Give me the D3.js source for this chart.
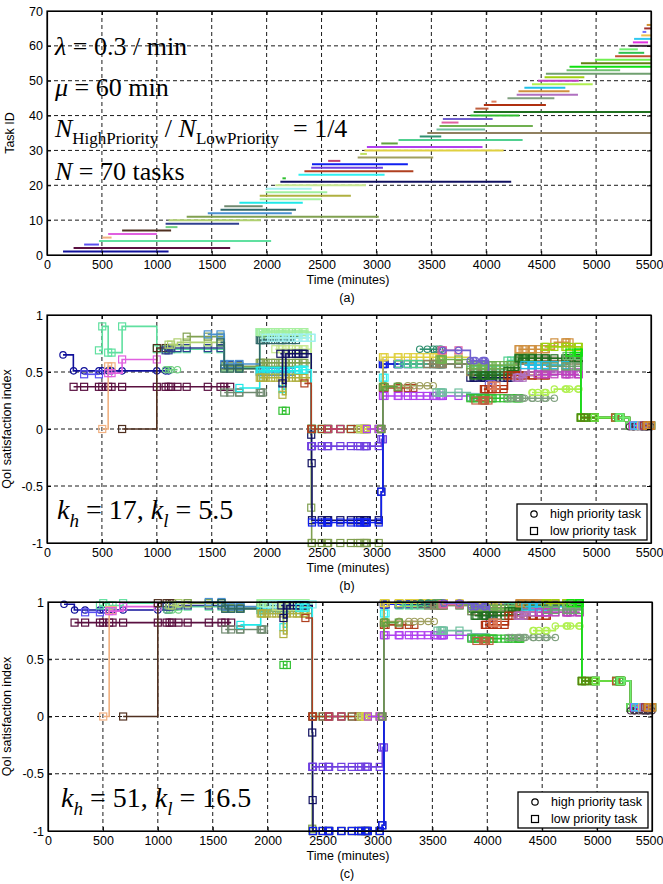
<!DOCTYPE html>
<html>
<head>
<meta charset="utf-8">
<script src="https://cdn.jsdelivr.net/npm/d3@7"></script>
<style>
body { margin: 0; background: #fff; }
text { font-family: "Liberation Sans", Arial, sans-serif; }
.serif, .serif text { font-family: "Liberation Serif", "Times New Roman", serif; }
</style>
</head>
<body>
<svg id="chart" width="663" height="884"></svg>
<script>
// task arrivals / departures (minutes)
var taskStart = [146,242,338,473,503,557,684,1080,1080,1107, 1272,1464,1580,1614,1752,1937,1937,1991,1991,2079,
  2125,2144,2290,2344,2406,2413,2560,2829,2852,2890, 2913,3044,3201,3394,3463,3547,3574,3593,3605,3855,
  3885,3901,3978,4047,4193,4277,4293,4347,4416,4470, 4531,4543,4731,4758,4862,4989,5173,5204,5212,5304,
  5335,5346,5411,5423,5438,5461];
var taskEnd = [1107,1668,473,2041,588,1000,1130,1188,1749,1948, 3021,2229,2267,1964,2329,2502,2767,2552,2410,2905,
  4227,2175,3074,3336,3059,3286,2671,3517,2913,4158, 3966,3194,4331,3590,5500,3989,4424,3747,4058,4301,
  5500,4020,4543,4093,4620,4835,4758,4720,4969,4843, 4893,5500,5219,5500,5500,5500,5500,5438,5380,5500,
  5473,5500,5500,5457,5500,5500];
// 1 = high priority (circles), 0 = low priority (squares)
var taskHigh = [1,0,0,0,0,0,0,1,0,0, 0,0,0,0,0,0,0,0,0,0, 0,0,0,0,0,0,0,1,0,0,
  0,0,0,1,0,0,0,0,1,0, 0,0,0,0,1,0,0,0,1,0, 0,0,0,0,0,0,0,0,0,1, 0,0,0,0,0,0];
var taskColor = ["#10109a","#5a1040","#5a50f0","#60e0a0","#f0b080","#e060e0","#503020","#70d080","#304090","#b0d070",
  "#80a050","#4a90d0","#306868","#708a70","#20e8e8","#a8f0a0","#b0b040","#a0f0a0","#a0f0f0","#c8e890",
  "#101060","#30c030","#30f0f0","#b04020","#7040e0","#1020f0","#c04070","#a0a060","#c0e060","#e0d040",
  "#b040f0","#60a040","#50d090","#309070","#908060","#70c0a0","#70b050","#e060a0","#7060d0","#30c030",
  "#207020","#c06040","#b03010","#e08060","#80a080","#b070c0","#d09040","#20c0e8","#b0f050","#c040c0",
  "#a0d010","#70a070","#70c070","#10e010","#608010","#70f050","#c05030","#30c050","#70f070","#403040",
  "#e030e0","#30c8f0","#f0c050","#7070ff","#a03030","#d09030"];

// QoI step breakpoints [time, value] per task, panel (b): kh=17, kl=5.5
var qoiB = [
  [[146,.65],[240,.51]], [[242,.37]], [[338,.48]],
  [[473,.69],[503,.9],[557,.67],[684,.9],[1000,.7],[1614,.54],[1937,.85]],
  [[503,0],[557,.55]], [[557,.49],[684,.61]], [[684,0],[1000,.71]], [[1080,.52]],
  [[1080,.69],[1130,.71],[1614,.56]], [[1107,.74],[1188,.76],[1614,.53],[1937,.52]],
  [[1272,.81],[1614,.55],[1937,.58],[2406,-.69],[2410,-1]], [[1464,.83],[1614,.57],[1937,.5]],
  [[1580,.76],[1614,.53],[1937,.78]], [[1614,.32]], [[1752,.36],[1937,.51],[2144,.35],[2175,.51]],
  [[1937,.85],[2406,0]], [[1937,.45],[2144,.3],[2175,.45],[2406,0]], [[1991,.83],[2406,0]], [[1991,.8]],
  [[2079,.7],[2406,0]],
  [[2125,.66],[2144,.4],[2175,.66],[2406,-.05],[2410,-.3],[2413,-.8],[3044,-.55],[3059,.57],[3855,.45]],
  [[2144,.16]], [[2290,.52],[2406,0],[3059,.45]], [[2344,.4],[2406,0],[3059,.36]], [[2406,-.15],[3044,-.09]],
  [[2413,-.82],[3044,-.55],[3059,.57]], [[2560,0]], [[2829,0],[3059,.38]], [[2852,0]],
  [[2890,0],[3059,.63],[3855,.5]], [[2913,0],[3059,.29],[3855,.28]], [[3044,0],[3059,.37]],
  [[3201,.57],[3855,.52],[4193,.6]], [[3394,.7]], [[3463,.57],[3855,.5],[4293,.6],[4862,.1],[5304,.03]],
  [[3547,.32],[3855,.28]], [[3574,.61],[3855,.56],[4293,.63]], [[3593,.69]], [[3605,.69],[3855,.6],[4020,.4]],
  [[3855,.27]], [[3885,.47],[4193,.51],[4293,.62],[4862,.1],[5304,.03]], [[3901,.25]], [[3978,.35],[4193,.47]],
  [[4047,.38]], [[4193,.27]], [[4277,.45],[4347,.5]], [[4293,.7],[4620,.76]], [[4347,.56]],
  [[4416,.32],[4620,.35],[4862,.1]], [[4470,.48]], [[4531,.72],[4862,.1]], [[4543,.55],[4862,.1],[5304,.03]],
  [[4731,.64],[4862,.1]], [[4758,.67],[4862,.1],[5304,.03]], [[4862,.1],[5304,.03]], [[4989,.1],[5304,.03]],
  [[5173,.1],[5304,.03]], [[5204,.1],[5304,.03]], [[5212,.1],[5304,.03]], [[5304,.02]],
  [[5335,.03]], [[5346,.03]], [[5411,.03]], [[5423,.03]], [[5438,.03]], [[5461,.03]]
];

// panel (c): kh=51, kl=16.5
var qoiC = [
  [[146,.98],[240,.93]], [[242,.82]], [[338,.91]],
  [[473,.97],[503,.99],[557,.97],[684,.99],[1000,.96],[1614,.95],[1937,.99]],
  [[503,0],[557,.93]], [[557,.92],[684,.96]], [[684,0],[1000,.99]], [[1080,.93]],
  [[1080,.96],[1130,.97],[1614,.96]], [[1107,.97],[1188,.99],[1614,.94],[1937,.93]],
  [[1272,.99],[1614,.95],[1937,.95],[2406,-.98],[2410,-1]], [[1464,1],[1614,.96],[1937,.93]],
  [[1580,.99],[1614,.94],[1937,.97]], [[1614,.76]], [[1752,.8],[1937,.93],[2144,.78],[2175,.93]],
  [[1937,.99],[2406,0]], [[1937,.9],[2144,.72],[2175,.9],[2406,0]], [[1991,.99],[2406,0]], [[1991,.98]],
  [[2079,.96],[2406,0]],
  [[2125,.97],[2144,.86],[2175,.97],[2406,-.14],[2410,-.73],[2413,-1],[3044,-.95],[3059,.98],[3855,.95]],
  [[2144,.45]], [[2290,.95],[2406,0],[3059,.9]], [[2344,.86],[2406,0],[3059,.8]], [[2406,-.44],[3044,-.27]],
  [[2413,-1],[3044,-.95],[3059,.98]], [[2560,0]], [[2829,0],[3059,.83]], [[2852,0]],
  [[2890,0],[3059,.99],[3855,.97]], [[2913,0],[3059,.71],[3855,.69]], [[3044,0],[3059,.82]],
  [[3201,.97],[3855,.92],[4193,.96]], [[3394,.99]], [[3463,.97],[3855,.92],[4293,.98],[4862,.31],[5304,.08]],
  [[3547,.75],[3855,.69]], [[3574,.98],[3855,.94],[4293,.97]], [[3593,.98]], [[3605,.99],[3855,.96],[4020,.85]],
  [[3855,.68]], [[3885,.88],[4193,.92],[4293,.97],[4862,.31],[5304,.08]], [[3901,.66]], [[3978,.8],[4193,.88]],
  [[4047,.82]], [[4193,.69]], [[4277,.88],[4347,.91]], [[4293,.99]], [[4347,.96]],
  [[4416,.75],[4620,.79],[4862,.31]], [[4470,.91]], [[4531,.99],[4862,.31]], [[4543,.93],[4862,.31],[5304,.08]],
  [[4731,.98],[4862,.31]], [[4758,.99],[4862,.31],[5304,.08]], [[4862,.31],[5304,.08]], [[4989,.31],[5304,.08]],
  [[5173,.31],[5304,.08]], [[5204,.31],[5304,.08]], [[5212,.31],[5304,.08]], [[5304,.05]],
  [[5335,.08]], [[5346,.08]], [[5411,.08]], [[5423,.08]], [[5438,.08]], [[5461,.08]]
];

var xTicks = [0,500,1000,1500,2000,2500,3000,3500,4000,4500,5000,5500];
var taskTicks = [0,10,20,30,40,50,60,70];
var qoiTicks = [-1,-0.5,0,0.5,1];

var svg = d3.select("#chart");
var events = Array.from(new Set(taskStart.concat(taskEnd))).sort(function(a,b){ return a-b; });

function valueAt(bp, t) {
  var v = bp[0][1];
  bp.forEach(function(p) { if (p[0] <= t) v = p[1]; });
  return v;
}

function frame(p, y, yTicks, yLabel, cap) {
  var x = d3.scaleLinear().domain([0,5500]).range([p.l, p.r]);
  var g = svg.append("g");
  g.append("g").selectAll("line").data(xTicks.slice(1,-1)).enter().append("line")
    .attr("x1", function(d){ return x(d); }).attr("x2", function(d){ return x(d); })
    .attr("y1", p.t).attr("y2", p.b)
    .attr("stroke", "#000").attr("stroke-width", 0.9).attr("stroke-dasharray", "4,3");
  g.append("g").selectAll("line").data(yTicks.slice(1,-1)).enter().append("line")
    .attr("y1", function(d){ return y(d); }).attr("y2", function(d){ return y(d); })
    .attr("x1", p.l).attr("x2", p.r)
    .attr("stroke", "#000").attr("stroke-width", 0.9).attr("stroke-dasharray", "4,3");

  svg.append("text").attr("x", 348).attr("y", p.b + 29).attr("text-anchor", "middle")
    .attr("font-size", 12.5).text("Time (minutes)");
  svg.append("text").attr("x", 347).attr("y", p.b + 47).attr("text-anchor", "middle")
    .attr("font-size", 12.5).text(cap);
  svg.append("text").attr("transform", "translate(" + (p.yl) + "," + ((p.t + p.b) / 2) + ") rotate(-90)")
    .attr("text-anchor", "middle").attr("font-size", 12.5).text(yLabel);
  return { x: x, g: g };
}

function box(p, x, y, yTicks) {
  var g = svg.append("g");
  g.append("rect").attr("x", p.l).attr("y", p.t).attr("width", p.r - p.l).attr("height", p.b - p.t)
    .attr("fill", "none").attr("stroke", "#000").attr("stroke-width", 1.2);
  g.append("g").attr("transform", "translate(0," + p.b + ")")
    .call(d3.axisBottom(x).tickValues(xTicks).tickSizeInner(-4).tickSizeOuter(0).tickPadding(5)
      .tickFormat(function(d){ return String(d); }));
  g.append("g").attr("transform", "translate(" + p.l + ",0)")
    .call(d3.axisLeft(y).tickValues(yTicks).tickSizeInner(-4).tickSizeOuter(0).tickPadding(4)
      .tickFormat(function(d){ return String(d); }));
  g.append("g").attr("transform", "translate(0," + p.t + ")")
    .call(d3.axisTop(x).tickValues(xTicks).tickSizeInner(-4).tickSizeOuter(0).tickFormat(""));
  g.append("g").attr("transform", "translate(" + p.r + ",0)")
    .call(d3.axisRight(y).tickValues(yTicks).tickSizeInner(-4).tickSizeOuter(0).tickFormat(""));
  g.selectAll(".domain").attr("stroke", "#000").attr("stroke-width", 1.2);
  g.selectAll(".tick line").attr("stroke", "#000");
  g.selectAll(".tick text").attr("font-size", 12.5).attr("fill", "#000")
    .attr("font-family", "Liberation Sans, Arial, sans-serif");
  // last x label would run off the page edge: pull it back inside
  g.selectAll(".tick text").filter(function(d){ return d === 5500; })
    .attr("text-anchor", "end").attr("x", 663 - p.r);
}

function marker(g, cx, cy, high, color) {
  if (high) {
    g.append("circle").attr("cx", cx).attr("cy", cy).attr("r", 3.2)
      .attr("fill", "none").attr("stroke", color).attr("stroke-width", 1.2);
  } else {
    g.append("rect").attr("x", cx - 3.5).attr("y", cy - 3.5).attr("width", 7).attr("height", 7)
      .attr("fill", "none").attr("stroke", color).attr("stroke-width", 1.2);
  }
}

// ---- panel (a) ----
var pa = { l: 47, r: 651, t: 11, b: 255, yl: 14 };
var ya = d3.scaleLinear().domain([0,70]).range([pa.b, pa.t]);
var fa = frame(pa, ya, taskTicks, "Task ID", "(a)");
fa.g.append("g").selectAll("line").data(taskStart).enter().append("line")
  .attr("x1", function(d){ return fa.x(d); })
  .attr("x2", function(d, i){ return fa.x(taskEnd[i]); })
  .attr("y1", function(d, i){ return ya(i + 1); })
  .attr("y2", function(d, i){ return ya(i + 1); })
  .attr("stroke", function(d, i){ return taskColor[i]; })
  .attr("stroke-width", 2);
box(pa, fa.x, ya, taskTicks);

var ta = svg.append("g").attr("class", "serif").attr("font-size", 26);
ta.append("text").attr("x", 55).attr("y", 55)
  .html('<tspan font-style="italic">λ</tspan> = 0.3 / min');
ta.append("text").attr("x", 55).attr("y", 96)
  .html('<tspan font-style="italic">μ</tspan> = 60 min');
ta.append("text").attr("x", 55).attr("y", 137)
  .html('<tspan font-style="italic">N</tspan><tspan font-size="17" dy="7">HighPriority</tspan>' +
        '<tspan dy="-7"> / </tspan><tspan font-style="italic">N</tspan>' +
        '<tspan font-size="17" dy="7">LowPriority</tspan><tspan dy="-7" dx="14">= 1/4</tspan>');
ta.append("text").attr("x", 55).attr("y", 180)
  .html('<tspan font-style="italic">N</tspan> = 70 tasks');

// ---- panels (b) and (c) ----
function qoiPanel(p, qoi, cap, label, lx0) {
  var y = d3.scaleLinear().domain([-1,1]).range([p.b, p.t]);
  var f = frame(p, y, qoiTicks, "QoI satisfaction index", cap);
  var x = f.x;
  var line = d3.line().x(function(d){ return x(d[0]); }).y(function(d){ return y(d[1]); })
    .curve(d3.curveStepAfter);
  qoi.forEach(function(bp, i) {
    var pts = bp.concat([[taskEnd[i], bp[bp.length - 1][1]]]);
    var tg = f.g.append("g");
    tg.append("path").attr("d", line(pts)).attr("fill", "none")
      .attr("stroke", taskColor[i]).attr("stroke-width", 1.6);
    events.filter(function(e){ return e >= taskStart[i] && e <= taskEnd[i]; }).forEach(function(e) {
      marker(tg, x(e), y(valueAt(bp, e)), taskHigh[i], taskColor[i]);
    });
  });
  box(p, x, y, qoiTicks);

  // legend
  var lw = 130, lh = 36, lx = p.r - 4 - lw, ly = p.b - 3 - lh;
  var lg = svg.append("g");
  lg.append("rect").attr("x", lx).attr("y", ly).attr("width", lw).attr("height", lh)
    .attr("fill", "#fff").attr("stroke", "#000").attr("stroke-width", 1.3);
  marker(lg, lx + 17, ly + 10, 1, "#000");
  marker(lg, lx + 17, ly + 27, 0, "#000");
  lg.append("text").attr("x", lx + 33).attr("y", ly + 14).attr("font-size", 12.5).text("high priority task");
  lg.append("text").attr("x", lx + 33).attr("y", ly + 31).attr("font-size", 12.5).text("low priority task");

  svg.append("text").attr("class", "serif").attr("x", lx0).attr("y", p.b - 24).attr("font-size", 28)
    .html(label);
}

qoiPanel({ l: 47, r: 651, t: 315, b: 543, yl: 11 }, qoiB, "(b)",
  '<tspan font-style="italic">k</tspan><tspan font-style="italic" font-size="19" dy="8">h</tspan>' +
  '<tspan dy="-8"> = 17, </tspan><tspan font-style="italic">k</tspan>' +
  '<tspan font-style="italic" font-size="19" dy="8">l</tspan><tspan dy="-8"> = 5.5</tspan>', 57);
qoiPanel({ l: 48, r: 652, t: 602, b: 831, yl: 11 }, qoiC, "(c)",
  '<tspan font-style="italic">k</tspan><tspan font-style="italic" font-size="19" dy="8">h</tspan>' +
  '<tspan dy="-8"> = 51, </tspan><tspan font-style="italic">k</tspan>' +
  '<tspan font-style="italic" font-size="19" dy="8">l</tspan><tspan dy="-8"> = 16.5</tspan>', 61);
</script>
</body>
</html>
